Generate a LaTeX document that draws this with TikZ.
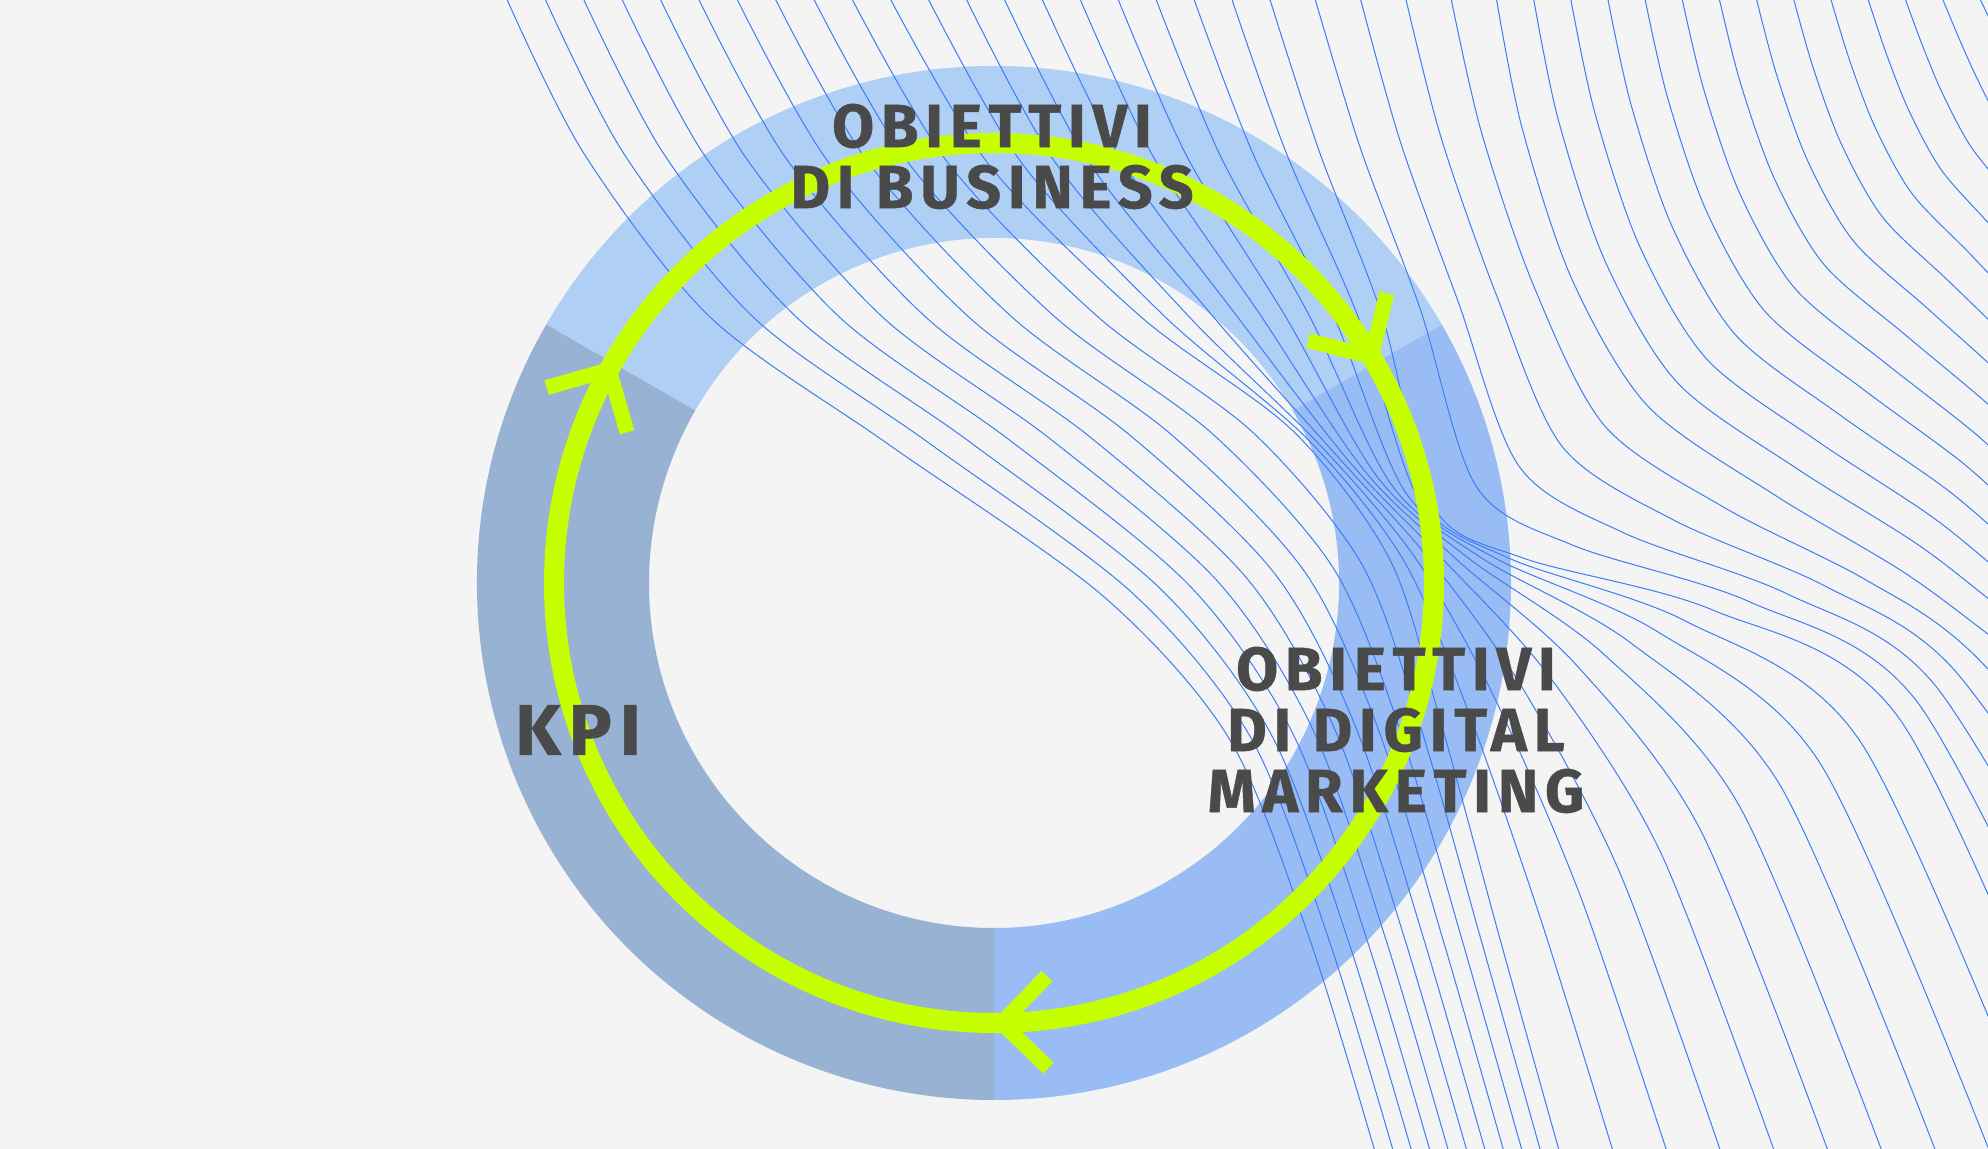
\documentclass[tikz,border=0pt]{standalone}
\usepackage{fontspec}
\newfontfamily\labelfont[LetterSpace=11, BoldFeatures={FakeBold=0.7}]{Fira Sans}

\definecolor{bgGray}{RGB}{244,244,244}
\definecolor{segTop}{RGB}{175,207,245}
\definecolor{segRight}{RGB}{153,188,244}
\definecolor{segLeft}{RGB}{152,178,212}
\definecolor{loopGreen}{RGB}{198,255,0}
\definecolor{contourBlue}{RGB}{60,125,245}
\definecolor{textGray}{RGB}{74,74,74}

\tikzset{every picture/.style={line width=0.75pt}}
\tikzset{
  lbl/.style={font=\labelfont\bfseries\fontsize{30.5}{30.5}\selectfont, text=textGray, align=center, inner sep=0pt},
  contour/.style={draw=contourBlue, line width=0.5pt},
  loopline/.style={draw=loopGreen, line width=10pt},
  chevron/.style={draw=loopGreen, line width=7.5pt}
}

% guide lines for the contour field (x, y and t of each guide)
\def\gx{{505,583,710,888,1103,1230,1310,1376, 888,989,1141,1293,1390,1440,1500,1560, 1268,1319,1382,1433,1522,1712,1900,2100, 1496,1522,1572,1648,1775,1902,1988,2150, 1978,1995,2010,2030,2060,2100,2140,2180}}
\def\gy{{-5,152,317,444,596,740,940,1155, -5,165,317,431,560,720,940,1155, -5,152,317,507,558,610,720,1160, -5,127,279,406,495,571,634,760, -5,30,60,100,150,220,290,360}}
\def\gt{{0,0.263,0.526,0.658,1}}
\newcommand\contourpt[1]{%
  \pgfmathsetmacro\px{(1-\u)*\gx[8*\j+#1]+\u*\gx[8*\j+8+#1]}%
  \pgfmathsetmacro\py{(1-\u)*\gy[8*\j+#1]+\u*\gy[8*\j+8+#1]}%
  \coordinate (c#1) at (\px,\py);}

\begin{document}
\begin{tikzpicture}[x=0.5pt,y=0.5pt,yscale=-1,xscale=1]
\path[use as bounding box, fill=bgGray] (0,0) rectangle (1988,1149);
\coordinate (ringc) at (994,583);

%Shape: Ring segments
\begin{scope}[shift={(ringc)}, yscale=-1]
\fill[segTop] (30:517) arc[start angle=30, end angle=150, radius=517] -- (150:345) arc[start angle=150, end angle=30, radius=345] -- cycle;
\fill[segLeft] (150:517) arc[start angle=150, end angle=270, radius=517] -- (270:345) arc[start angle=270, end angle=150, radius=345] -- cycle;
\fill[segRight] (270:517) arc[start angle=270, end angle=390, radius=517] -- (30:345) arc[start angle=390, end angle=270, radius=345] -- cycle;
\end{scope}

%Contour lines
\begin{scope}
\clip (0,0) rectangle (1988,1149);
\foreach \i in {0,...,38}{
  \pgfmathsetmacro\t{\i/38}
  \pgfmathtruncatemacro\j{(\t<0.263)?0:((\t<0.526)?1:((\t<0.658)?2:3))}
  \pgfmathsetmacro\u{(\t-\gt[\j])/(\gt[\j+1]-\gt[\j])}
  \foreach \k in {0,...,7}{\contourpt{\k}}
  \draw[contour] plot[smooth] coordinates {(c0) (c1) (c2) (c3) (c4) (c5) (c6) (c7)};
}
\end{scope}

%Shape: Circle and arrow heads
\begin{scope}[shift={(ringc)}, yscale=-1]
\draw[loopline] (0,0) circle[radius=440];
\foreach \a in {31,151,271}{
  \draw[chevron] (\a:440) ++(\a+45:65) -- (\a:440) -- ++(\a+135:65);
}
\end{scope}

% Text Node
\node[lbl] (business) at (992,156.5) {OBIETTIVI\\DI BUSINESS};
% Text Node
\node[lbl] (digital) at (1396,730) {OBIETTIVI\\DI DIGITAL\\MARKETING};
% Text Node
\node[lbl, font=\labelfont\bfseries\fontsize{36}{36}\selectfont] (kpi) at (578,730) {KPI};

\end{tikzpicture}
\end{document}
